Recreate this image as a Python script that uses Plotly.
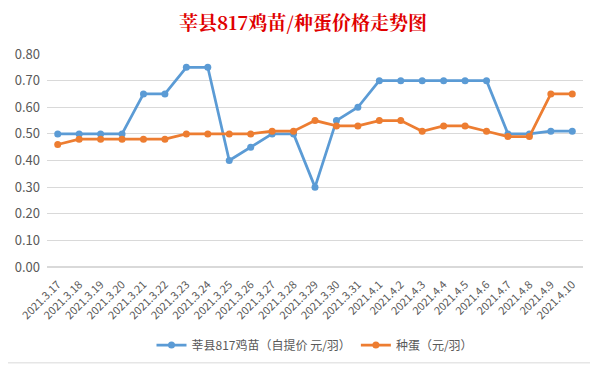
import plotly.graph_objects as go

dates = ["2021.3.17", "2021.3.18", "2021.3.19", "2021.3.20", "2021.3.21", "2021.3.22",
         "2021.3.23", "2021.3.24", "2021.3.25", "2021.3.26", "2021.3.27", "2021.3.28",
         "2021.3.29", "2021.3.30", "2021.3.31", "2021.4.1", "2021.4.2", "2021.4.3",
         "2021.4.4", "2021.4.5", "2021.4.6", "2021.4.7", "2021.4.8", "2021.4.9", "2021.4.10"]
chick = [0.50, 0.50, 0.50, 0.50, 0.65, 0.65, 0.75, 0.75, 0.40, 0.45, 0.50, 0.50, 0.30,
         0.55, 0.60, 0.70, 0.70, 0.70, 0.70, 0.70, 0.70, 0.50, 0.50, 0.51, 0.51]
egg = [0.46, 0.48, 0.48, 0.48, 0.48, 0.48, 0.50, 0.50, 0.50, 0.50, 0.51, 0.51, 0.55,
       0.53, 0.53, 0.55, 0.55, 0.51, 0.53, 0.53, 0.51, 0.49, 0.49, 0.65, 0.65]
y_ticks = [0.0, 0.1, 0.2, 0.3, 0.4, 0.5, 0.6, 0.7, 0.8]

font_fam = "Noto Sans CJK SC, Microsoft YaHei, sans-serif"

fig = go.Figure()
fig.add_trace(go.Scatter(x=dates, y=chick, mode="lines+markers",
                         name="莘县817鸡苗（自提价 元/羽）",
                         line=dict(color="#5B9BD5", width=2.75),
                         marker=dict(color="#5B9BD5", size=7)))
fig.add_trace(go.Scatter(x=dates, y=egg, mode="lines+markers",
                         name="种蛋（元/羽）",
                         line=dict(color="#ED7D31", width=2.75),
                         marker=dict(color="#ED7D31", size=7)))

fig.update_layout(
    width=590, height=359,
    margin=dict(l=39, r=15, t=46, b=100, autoexpand=False),
    paper_bgcolor="white", plot_bgcolor="white",
    font=dict(family=font_fam, color="#595959", size=12),
    title=dict(text="<b>莘县817鸡苗/种蛋价格走势图</b>", x=0.5, xanchor="center",
               y=0.958, yanchor="middle",
               font=dict(family="Noto Serif CJK SC, Noto Sans CJK SC, serif", size=19, color="#E00000")),
    showlegend=True,
    legend=dict(orientation="h", x=0.5, xanchor="center", yref="container", y=0.061,
                yanchor="middle", font=dict(size=12, color="#595959"),
                bgcolor="rgba(0,0,0,0)"),
    xaxis=dict(type="category", tickangle=-45, showgrid=False, showline=False, automargin=False,
               range=[-0.5, len(dates) - 0.5], ticklabelstandoff=8,
               ticks="", tickfont=dict(size=11, color="#595959")),
    yaxis=dict(range=[0, 0.8], tickvals=y_ticks, tickformat=".2f", showgrid=True, automargin=False,
               gridcolor="#D9D9D9", gridwidth=1, zeroline=True, zerolinecolor="#D9D9D9",
               showline=False, ticks="", ticklabelstandoff=6,
               tickfont=dict(size=13, color="#595959")),
    shapes=[
        dict(type="line", xref="paper", yref="paper", x0=-0.09, x1=1.022, y0=-0.45, y1=-0.45,
             line=dict(color="#D9D9D9", width=1)),
        dict(type="line", xref="paper", yref="paper", x0=1.022, x1=1.022, y0=-0.45, y1=1.25,
             line=dict(color="#D9D9D9", width=1)),
    ],
)

fig.write_html("out.html")
